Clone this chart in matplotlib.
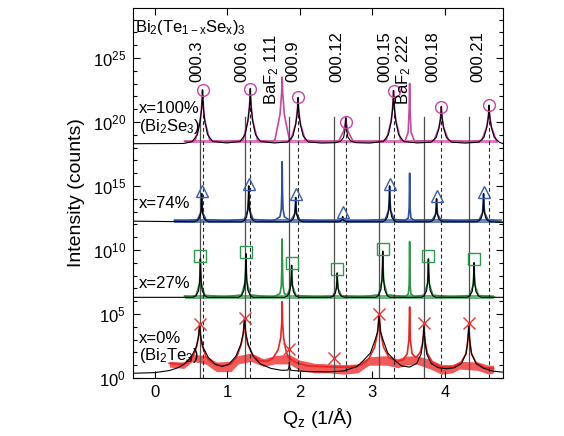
import numpy as np
import matplotlib
matplotlib.use("Agg")
import matplotlib.pyplot as plt

plt.rcParams['font.family'] = ['Liberation Sans', 'DejaVu Sans']
plt.rcParams['mathtext.fontset'] = 'custom'
plt.rcParams['mathtext.rm'] = 'Liberation Sans'
plt.rcParams['mathtext.it'] = 'Liberation Sans:italic'
plt.rcParams['mathtext.default'] = 'regular'

# ---------------- data (Qz in 1/A, log10 intensity) ----------------
# reference peak positions
bi2te3_pos = [0.618, 1.237, 1.855, 2.473, 3.092, 3.710, 4.328]
bi2se3_pos = [0.658, 1.317, 1.975, 2.633, 3.291, 3.950, 4.608]
bi2se3_top = [22.1, 22.2, 21.5, 19.6, 22.05, 20.8, 20.9]
bi2te3_line_top = 20.4

peak_labels = ['000.3', '000.6', '000.9', '000.12', '000.15', '000.18', '000.21']
peak_label_q = [0.578, 1.202, 1.901, 2.511, 3.173, 3.830, 4.455]
baf2_labels = ['BaF$_2$ 111', 'BaF$_2$ 222']
baf2_label_q = [1.611, 3.435]

# markers (peak intensities)
mag_mk_q = [0.658, 1.317, 1.975, 2.633, 3.291, 3.950, 4.608]
mag_mk_v = [22.5, 22.6, 21.95, 20.0, 22.45, 21.2, 21.3]
blue_mk_q = [0.647, 1.295, 1.942, 2.590, 3.237, 3.884, 4.532]
blue_mk_v = [14.6, 15.15, 14.4, 13.0, 15.15, 14.2, 14.55]
green_mk_q = [0.629, 1.257, 1.886, 2.515, 3.143, 3.772, 4.401]
green_mk_v = [9.55, 9.85, 8.95, 8.5, 10.1, 9.5, 9.3]
red_mk_q = [0.618, 1.237, 1.855, 2.473, 3.092, 3.710, 4.328]
red_mk_v = [4.2, 4.7, 2.25, 1.6, 5.0, 4.3, 4.3]

# fitted curves (black)
mag_fit = [(-0.30,18.30),(0.40,18.32),
 (0.518,18.47),(0.588,19.01),(0.623,19.98),(0.646,21.03),(0.654,21.87),(0.658,22.5),(0.662,21.87),(0.670,21.03),(0.693,19.98),(0.728,19.01),(0.798,18.47),
 (0.99,18.36),
 (1.177,18.47),(1.247,19.03),(1.282,20.02),(1.305,21.1),(1.313,21.96),(1.317,22.6),(1.321,21.96),(1.329,21.1),(1.352,20.02),(1.387,19.03),(1.457,18.47),
 (1.65,18.36),
 (1.835,18.44),(1.905,18.91),(1.940,19.74),(1.963,20.64),(1.971,21.36),(1.975,21.9),(1.979,21.36),(1.987,20.64),(2.010,19.74),(2.045,18.91),(2.115,18.44),
 (2.30,18.35),
 (2.493,18.38),(2.563,18.5),(2.603,18.8),(2.623,19.4),(2.629,19.9),(2.633,20.3),(2.637,19.9),(2.643,19.4),(2.663,18.8),(2.703,18.5),(2.773,18.38),
 (2.96,18.35),
 (3.151,18.47),(3.221,19.01),(3.256,19.96),(3.279,21.0),(3.287,21.83),(3.291,22.45),(3.295,21.83),(3.303,21.0),(3.326,19.96),(3.361,19.01),(3.431,18.47),
 (3.62,18.36),
 (3.810,18.42),(3.880,18.79),(3.915,19.46),(3.938,20.19),(3.946,20.77),(3.950,21.2),(3.954,20.77),(3.962,20.19),(3.985,19.46),(4.020,18.79),(4.090,18.42),
 (4.28,18.35),
 (4.468,18.42),(4.538,18.81),(4.573,19.5),(4.596,20.25),(4.604,20.85),(4.608,21.3),(4.612,20.85),(4.620,20.25),(4.643,19.5),(4.678,18.81),(4.748,18.42),
 (4.80,18.30)]

blue_fit = [(-0.30,12.25),
 (0.547,12.2),(0.587,12.29),(0.617,12.49),(0.637,12.97),(0.643,13.63),(0.647,14.4),(0.651,13.63),(0.657,12.97),(0.677,12.49),(0.707,12.29),(0.747,12.2),
 (1.195,12.2),(1.235,12.31),(1.265,12.56),(1.285,13.18),(1.291,14.02),(1.295,15.0),(1.299,14.02),(1.305,13.18),(1.325,12.56),(1.355,12.31),(1.395,12.2),
 (1.842,12.2),(1.882,12.28),(1.912,12.45),(1.932,12.87),(1.938,13.44),(1.942,14.1),(1.946,13.44),(1.952,12.87),(1.972,12.45),(2.002,12.28),(2.042,12.2),
 (2.530,12.2),(2.560,12.25),(2.580,12.34),(2.586,12.46),(2.590,12.6),(2.594,12.46),(2.600,12.34),(2.620,12.25),(2.650,12.2),
 (3.137,12.2),(3.177,12.31),(3.207,12.56),(3.227,13.18),(3.233,14.02),(3.237,15.0),(3.241,14.02),(3.247,13.18),(3.267,12.56),(3.297,12.31),(3.337,12.2),
 (3.784,12.2),(3.824,12.27),(3.854,12.43),(3.874,12.83),(3.880,13.37),(3.884,14.0),(3.888,13.37),(3.894,12.83),(3.914,12.43),(3.944,12.27),(3.984,12.2),
 (4.432,12.2),(4.472,12.29),(4.502,12.49),(4.522,12.97),(4.528,13.63),(4.532,14.4),(4.536,13.63),(4.542,12.97),(4.562,12.49),(4.592,12.29),(4.632,12.2),
 (4.80,12.15)]

green_fit = [(-0.30,6.3),
 (0.529,6.3),(0.569,6.42),(0.604,6.81),(0.619,7.56),(0.625,8.4),(0.629,9.3),(0.633,8.4),(0.639,7.56),(0.654,6.81),(0.689,6.42),(0.729,6.3),
 (1.157,6.3),(1.197,6.44),(1.232,6.88),(1.247,7.73),(1.253,8.68),(1.257,9.7),(1.261,8.68),(1.267,7.73),(1.282,6.88),(1.317,6.44),(1.357,6.3),
 (1.786,6.3),(1.826,6.4),(1.861,6.73),(1.876,7.35),(1.882,8.05),(1.886,8.8),(1.890,8.05),(1.896,7.35),(1.911,6.73),(1.946,6.4),(1.986,6.3),
 (2.415,6.3),(2.455,6.38),(2.490,6.62),(2.505,7.1),(2.511,7.63),(2.515,8.2),(2.519,7.63),(2.525,7.1),(2.540,6.62),(2.575,6.38),(2.615,6.3),
 (3.043,6.3),(3.083,6.44),(3.118,6.91),(3.133,7.81),(3.139,8.82),(3.143,9.9),(3.147,8.82),(3.153,7.81),(3.168,6.91),(3.203,6.44),(3.243,6.3),
 (3.672,6.3),(3.712,6.42),(3.747,6.81),(3.762,7.56),(3.768,8.4),(3.772,9.3),(3.776,8.4),(3.782,7.56),(3.797,6.81),(3.832,6.42),(3.872,6.3),
 (4.301,6.3),(4.341,6.41),(4.376,6.76),(4.391,7.43),(4.397,8.19),(4.401,9.0),(4.405,8.19),(4.411,7.43),(4.426,6.76),(4.461,6.41),(4.501,6.3),
 (4.80,6.3)]

red_fit = [(-0.30,0.37),(0.0,0.42),(0.20,0.58),(0.318,0.8),(0.398,1.05),(0.498,1.6),(0.568,2.38),(0.598,3.06),(0.610,3.63),(0.618,4.2),
 (0.626,3.63),(0.638,3.06),(0.668,2.38),(0.738,1.6),(0.838,1.05),(0.928,0.9),
 (1.017,1.05),(1.117,1.69),(1.187,2.64),(1.217,3.41),(1.229,4.06),(1.237,4.7),(1.245,4.06),(1.257,3.41),(1.287,2.64),(1.357,1.69),(1.457,1.1),
 (1.6,0.75),(1.75,0.6),(1.835,0.62),(1.850,0.85),(1.855,1.2),(1.860,0.85),(1.875,0.6),
 (2.1,0.5),(2.4,0.48),(2.6,0.55),(2.792,0.9),(2.872,1.35),(2.972,1.95),(3.037,2.97),(3.072,3.62),(3.084,4.31),(3.092,5.0),
 (3.100,4.31),(3.112,3.62),(3.147,2.97),(3.212,1.95),(3.312,1.35),(3.40,0.95),
 (3.51,0.85),(3.61,1.13),(3.67,1.86),(3.69,2.59),(3.702,3.32),(3.710,4.05),(3.718,3.32),(3.730,2.59),(3.750,1.86),(3.810,1.13),(3.91,0.8),
 (4.02,0.72),
 (4.128,0.8),(4.228,1.13),(4.288,1.86),(4.308,2.59),(4.320,3.32),(4.328,4.05),(4.336,3.32),(4.348,2.59),(4.368,1.86),(4.428,1.13),(4.528,0.77),
 (4.65,0.55),(4.80,0.45)]

# measured scans (coloured)
mag_data = [(0.41,18.5),(0.50,18.45),
 (0.558,18.57),(0.628,20.15),(0.650,21.49),(0.658,22.5),(0.666,21.49),(0.688,20.15),(0.758,18.57),
 (0.95,18.45),
 (1.217,18.57),(1.287,20.19),(1.309,21.56),(1.317,22.6),(1.325,21.56),(1.347,20.19),(1.417,18.57),
 (1.60,18.45),
 (1.656,18.6),(1.726,20.57),(1.748,22.24),(1.756,23.5),(1.764,22.24),(1.786,20.57),(1.856,18.6),
 (1.875,18.57),(1.945,19.9),(1.967,21.04),(1.975,21.9),(1.983,21.04),(2.005,19.9),(2.075,18.57),
 (2.35,18.45),
 (2.533,18.5),(2.603,19.27),(2.625,19.9),(2.633,20.4),(2.641,19.9),(2.663,19.27),(2.733,18.5),
 (3.0,18.45),
 (3.191,18.57),(3.261,20.13),(3.283,21.45),(3.291,22.45),(3.299,21.45),(3.321,20.13),(3.391,18.57),
 (3.45,18.5),(3.493,19.2),(3.507,21.0),(3.513,23.0),(3.519,21.0),(3.533,19.2),(3.58,18.5),
 (3.850,18.55),(3.920,19.6),(3.942,20.51),(3.950,21.2),(3.958,20.51),(3.980,19.6),(4.050,18.55),
 (4.3,18.45),
 (4.508,18.55),(4.578,19.65),(4.600,20.59),(4.608,21.3),(4.616,20.59),(4.638,19.65),(4.708,18.55),(4.72,18.45)]

blue_data = [(0.27,12.3),(0.45,12.27),
 (0.587,12.36),(0.632,12.9),(0.643,13.65),(0.647,14.4),(0.651,13.65),(0.662,12.9),(0.707,12.36),
 (1.0,12.27),
 (1.235,12.39),(1.280,13.08),(1.291,14.04),(1.295,15.0),(1.299,14.04),(1.310,13.08),(1.355,12.39),
 (1.60,12.27),
 (1.656,12.33),(1.726,12.6),(1.744,13.2),(1.751,14.5),(1.756,16.9),(1.761,14.5),(1.768,13.2),(1.786,12.6),(1.856,12.33),
 (1.882,12.34),(1.927,12.8),(1.938,13.45),(1.942,14.1),(1.946,13.45),(1.957,12.8),(2.002,12.34),
 (2.3,12.27),
 (2.550,12.27),(2.580,12.37),(2.590,12.6),(2.600,12.37),(2.630,12.27),
 (2.9,12.27),
 (3.177,12.39),(3.222,13.08),(3.233,14.04),(3.237,15.0),(3.241,14.04),(3.252,13.08),(3.297,12.39),
 (3.45,12.3),(3.495,12.5),(3.507,13.3),(3.513,16.0),(3.519,13.3),(3.531,12.5),(3.58,12.3),
 (3.824,12.34),(3.869,12.78),(3.880,13.39),(3.884,14.0),(3.888,13.39),(3.899,12.78),(3.944,12.34),
 (4.2,12.27),
 (4.472,12.36),(4.517,12.9),(4.528,13.65),(4.532,14.4),(4.536,13.65),(4.547,12.9),(4.592,12.36),
 (4.78,12.2)]

green_data = [(0.41,6.4),(0.50,6.32),
 (0.569,6.47),(0.617,7.37),(0.625,8.42),(0.629,9.3),(0.633,8.42),(0.641,7.37),(0.689,6.47),
 (0.95,6.32),
 (1.197,6.49),(1.245,7.51),(1.253,8.7),(1.257,9.7),(1.261,8.7),(1.269,7.51),(1.317,6.49),
 (1.60,6.32),
 (1.656,6.38),(1.726,6.6),(1.744,7.2),(1.751,8.5),(1.756,10.86),(1.761,8.5),(1.768,7.2),(1.786,6.6),
 (1.826,6.45),(1.874,7.2),(1.882,8.07),(1.886,8.8),(1.890,8.07),(1.898,7.2),(1.946,6.45),
 (2.25,6.32),
 (2.455,6.41),(2.503,6.98),(2.511,7.64),(2.515,8.2),(2.519,7.64),(2.527,6.98),(2.575,6.41),
 (2.85,6.32),
 (3.083,6.5),(3.131,7.57),(3.139,8.83),(3.143,9.9),(3.147,8.83),(3.155,7.57),(3.203,6.5),
 (3.45,6.35),(3.495,6.55),(3.507,7.3),(3.513,10.65),(3.519,7.3),(3.531,6.55),(3.58,6.35),
 (3.712,6.47),(3.760,7.37),(3.768,8.42),(3.772,9.3),(3.776,8.42),(3.784,7.37),(3.832,6.47),
 (4.1,6.32),
 (4.341,6.45),(4.389,7.26),(4.397,8.2),(4.401,9.0),(4.405,8.2),(4.413,7.26),(4.461,6.45),
 (4.68,6.32)]

red_data = [(0.20,1.15),(0.35,1.05),(0.45,1.2),(0.53,1.7),(0.58,2.5),(0.605,3.3),(0.618,4.2),(0.631,3.3),(0.656,2.5),(0.71,1.6),
 (0.80,1.15),(0.93,0.95),(1.05,1.1),(1.13,1.65),(1.19,2.6),(1.222,3.5),(1.237,4.7),(1.252,3.5),(1.284,2.6),(1.35,1.8),
 (1.45,1.35),(1.55,1.3),(1.63,1.55),(1.70,2.2),(1.735,3.1),(1.750,4.3),(1.756,5.96),(1.762,4.3),(1.777,3.1),(1.81,2.1),
 (1.84,1.6),(1.855,1.7),(1.87,1.5),(1.95,1.2),(2.1,0.95),(2.3,0.9),(2.5,0.85),(2.7,0.85),(2.85,1.05),(2.95,1.5),
 (3.03,2.4),(3.07,3.5),(3.092,5.0),(3.114,3.5),(3.154,2.4),(3.23,1.6),(3.33,1.3),(3.42,1.4),(3.48,1.9),(3.503,3.0),
 (3.513,5.55),(3.523,3.0),(3.546,1.9),(3.60,1.6),(3.66,2.0),(3.69,2.7),(3.703,3.4),(3.710,4.05),(3.717,3.4),(3.73,2.7),
 (3.76,1.9),(3.83,1.2),(3.95,0.85),(4.1,0.85),(4.22,1.2),(4.29,1.9),(4.31,2.7),(4.321,3.4),(4.328,4.05),(4.335,3.4),
 (4.346,2.7),(4.366,1.9),(4.43,1.2),(4.55,0.8),(4.67,0.75)]

# noise band of the x=0% scan
red_band_q = [0.20, 0.40, 0.52, 0.70, 0.85, 1.05, 1.15, 1.33, 1.5, 1.65, 1.85, 2.0, 2.2, 2.4, 2.6, 2.8, 2.95, 3.2, 3.35, 3.45, 3.6, 3.8, 3.95, 4.1, 4.2, 4.45, 4.6, 4.67]
red_band_lo = [0.85, 0.75, 1.3, 1.1, 0.5, 0.5, 1.1, 1.3, 0.9, 1.1, 1.1, 0.6, 0.4, 0.4, 0.3, 0.4, 1.0, 1.0, 0.8, 1.0, 1.1, 0.7, 0.3, 0.4, 0.7, 0.6, 0.3, 0.4]
red_band_hi = [1.3, 1.25, 1.85, 1.75, 1.25, 1.3, 1.75, 1.95, 1.5, 1.75, 1.85, 1.4, 1.15, 1.1, 1.05, 1.1, 1.65, 1.75, 1.5, 1.7, 1.75, 1.45, 1.05, 1.05, 1.3, 1.25, 1.0, 1.0]

# baseline noise bands of the other scans (start, end, low, high)
mag_band = (0.41, 4.72, 18.32, 18.6)
blue_band = (0.27, 4.78, 12.12, 12.4)
green_band = (0.41, 4.68, 6.16, 6.45)

series_labels = [('x=100%', 21.05), ('(Bi$_2$Se$_3$)', 19.65), ('x=74%', 13.6),
                 ('x=27%', 7.35), ('x=0%', 3.1), ('(Bi$_2$Te$_3$)', 1.75)]

C_MAG = '#c9459e'
C_BLUE = '#2d4f9e'
C_GREEN = '#2a9447'
C_RED = '#ee2222'

# ---------------- figure ----------------
fig = plt.figure(figsize=(5.64, 4.36), dpi=100)
ax = fig.add_axes([133/564, 58/436, 370/564, 370/436])
ax.set_yscale('log')

def curve(pairs):
    q, v = zip(*pairs)
    return np.array(q), 10.0 ** np.array(v)

# noise bands
ax.fill_between(red_band_q, 10.0 ** np.array(red_band_lo), 10.0 ** np.array(red_band_hi),
                color=C_RED, alpha=0.75, lw=0, zorder=1)
for (q0, q1, lo, hi), c in [(mag_band, C_MAG), (blue_band, C_BLUE), (green_band, C_GREEN)]:
    ax.fill_between([q0, q1], [10 ** lo] * 2, [10 ** hi] * 2, color=c, alpha=0.7, lw=0, zorder=1)

for pairs, c in [(mag_data, C_MAG), (blue_data, C_BLUE), (green_data, C_GREEN), (red_data, C_RED)]:
    q, v = curve(pairs)
    ax.plot(q, v, color=c, lw=1.2, zorder=2)

# reference lines
for q in bi2te3_pos:
    ax.plot([q, q], [1, 10 ** bi2te3_line_top], color='0.3', lw=0.9, zorder=3)
for q, t in zip(bi2se3_pos, bi2se3_top):
    ax.plot([q, q], [1, 10 ** t], color='0.15', lw=0.8, ls=(0, (3.5, 2.5)), zorder=3)

for pairs in [mag_fit, blue_fit, green_fit, red_fit]:
    q, v = curve(pairs)
    ax.plot(q, v, color='black', lw=0.8, zorder=4)

mk = dict(ls='none', mfc='none', mew=1.0, zorder=5)
ax.plot(mag_mk_q, 10.0 ** np.array(mag_mk_v), marker='o', ms=8.5, mec=C_MAG, **mk)
ax.plot(blue_mk_q, 10.0 ** np.array(blue_mk_v), marker='^', ms=9, mec='#3b5eab', **mk)
ax.plot(green_mk_q, 10.0 ** np.array(green_mk_v), marker='s', ms=8, mec='#2e9a50', **mk)
ax.plot(red_mk_q, 10.0 ** np.array(red_mk_v), marker='x', ms=9, mec='#f03030', **mk)

# text
for lab, q in zip(peak_labels, peak_label_q):
    ax.text(q, 10 ** 23.1, lab, rotation=90, ha='center', va='bottom', fontsize=12, zorder=6)
for lab, q in zip(baf2_labels, baf2_label_q):
    ax.text(q, 10 ** 21.3, lab, rotation=90, ha='center', va='bottom', fontsize=12, zorder=6)
for lab, v in series_labels:
    ax.text(-0.218, 10 ** v, lab, ha='left', va='center', fontsize=12, zorder=6)
ax.text(-0.273, 10 ** 27.0, 'Bi$_2$(Te$_{1-x}$Se$_x$)$_3$', ha='left', va='baseline', fontsize=12, zorder=6)

# axes
ax.set_xlim(-0.30, 4.80)
ax.set_ylim(1, 10 ** 28.9)
ax.set_xticks([0, 1, 2, 3, 4])
ax.set_yticks([10.0 ** k for k in range(0, 30, 5)])
ax.set_yticklabels(['$10^{%d}$' % k for k in range(0, 30, 5)])
ax.set_yticks([10.0 ** k for k in range(0, 29)], minor=True)
ax.yaxis.set_minor_formatter(matplotlib.ticker.NullFormatter())
ax.tick_params(which='both', direction='in', top=True, right=True, labelsize=12, width=0.8)
ax.tick_params(which='major', length=5, pad=5)
ax.tick_params(which='minor', length=3)
for s in ax.spines.values():
    s.set_linewidth(0.8)
ax.set_xlabel('Q$_z$ (1/Å)', fontsize=14, labelpad=4)
ax.set_ylabel('Intensity (counts)', fontsize=14, labelpad=6)

fig.savefig('out.png', dpi=100)
